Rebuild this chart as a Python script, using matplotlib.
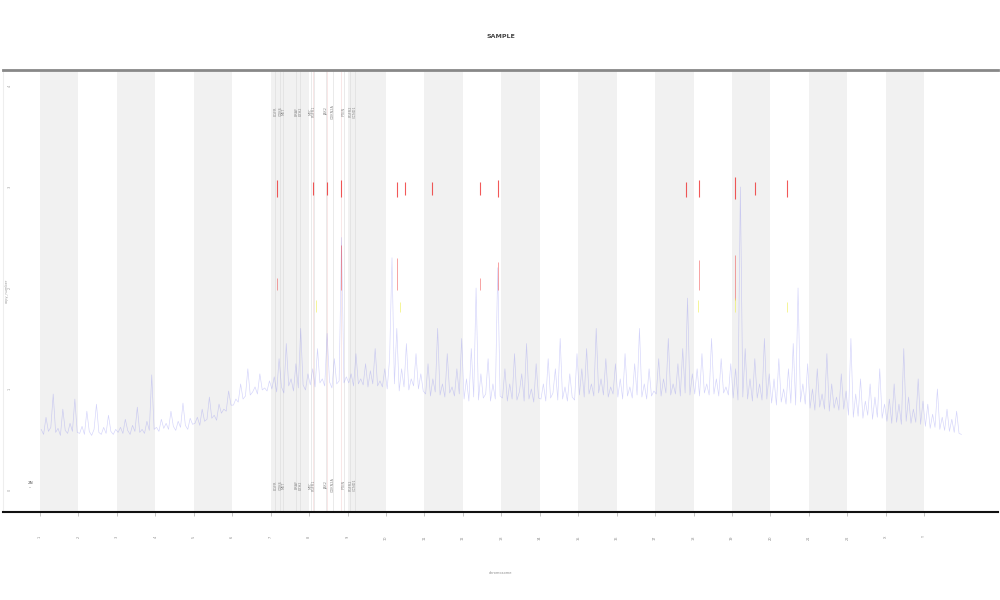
import matplotlib
matplotlib.use("Agg")
import matplotlib.pyplot as plt
import numpy as np

# ---------------- data ----------------
chrom_names = [str(i) for i in range(1, 23)] + ["X", "Y"]
points_per_chrom = 16

depth_values = [
    0.60,0.55,0.72,0.58,0.62,0.95,0.57,0.61,0.54,0.80,0.59,0.56,0.66,0.58,0.90,0.57,
    0.56,0.63,0.55,0.78,0.58,0.54,0.60,0.85,0.57,0.55,0.62,0.56,0.74,0.58,0.55,0.60,
    0.57,0.62,0.56,0.70,0.59,0.55,0.64,0.58,0.82,0.57,0.60,0.56,0.68,0.59,1.14,0.60,
    0.62,0.58,0.70,0.61,0.66,0.60,0.78,0.63,0.59,0.68,0.62,0.86,0.64,0.60,0.71,0.65,
    0.66,0.72,0.64,0.80,0.68,0.70,0.92,0.71,0.74,0.69,0.85,0.76,0.80,0.78,0.98,0.84,
    0.84,0.90,0.87,1.05,0.90,0.93,1.20,0.94,0.97,1.02,0.95,1.15,0.99,1.01,0.98,1.08,
    1.00,1.12,0.97,1.30,1.02,0.96,1.45,1.03,1.10,0.98,1.25,1.01,1.60,1.04,0.99,1.15,
    1.04,1.20,1.02,1.40,1.06,1.10,1.03,1.55,1.07,1.01,1.30,1.05,1.08,2.50,1.06,1.12,
    1.06,1.15,1.03,1.35,1.05,1.10,1.04,1.25,1.02,1.18,1.05,1.40,1.03,1.08,1.02,1.20,
    1.00,1.30,2.30,1.05,1.60,0.98,1.20,1.02,1.45,0.99,1.10,1.03,1.35,1.00,1.15,0.98,
    0.95,1.25,0.93,1.10,0.97,1.60,0.94,1.05,0.92,1.35,0.96,1.02,0.93,1.20,0.95,1.50,
    0.90,1.10,0.88,1.40,0.92,2.00,0.89,1.15,0.91,0.95,1.30,0.88,1.05,0.90,2.20,0.93,
    0.91,1.20,0.88,1.05,0.90,1.35,0.89,0.97,1.15,0.88,1.45,0.90,1.00,0.87,1.25,0.91,
    0.90,1.05,0.88,1.30,0.91,0.96,1.20,0.89,1.50,0.90,1.02,0.88,1.15,0.92,0.89,1.35,
    0.94,1.20,0.92,1.40,0.95,1.05,0.93,1.60,0.96,1.10,0.94,1.30,0.92,1.02,0.95,1.25,
    0.92,1.10,0.90,1.35,0.93,1.02,0.91,1.25,0.94,1.60,0.92,1.05,0.90,1.20,0.93,0.98,
    0.95,1.30,0.93,1.10,0.96,1.50,0.94,1.05,0.95,1.25,0.93,1.40,0.96,1.90,0.94,1.15,
    0.95,1.20,0.93,1.35,0.96,1.05,0.94,1.50,0.95,1.10,0.93,1.30,0.96,1.02,0.94,1.25,
    0.91,1.20,0.89,3.00,0.92,1.40,0.90,1.10,0.88,1.30,0.91,1.05,0.89,1.50,0.90,1.15,
    0.86,1.10,0.84,1.30,0.87,1.00,0.85,1.20,0.86,1.45,0.84,2.00,0.87,1.05,0.85,1.25,
    0.81,1.00,0.79,1.20,0.82,0.95,0.80,1.35,0.78,1.05,0.81,0.92,0.79,1.15,0.80,0.98,
    0.74,1.50,0.72,0.95,0.73,1.10,0.71,0.88,0.74,1.05,0.70,0.92,0.72,1.20,0.71,0.85,
    0.68,0.90,0.66,1.05,0.67,0.85,0.65,1.40,0.68,0.92,0.66,0.80,0.67,1.10,0.65,0.88,
    0.63,0.85,0.61,0.75,0.62,1.00,0.60,0.72,0.59,0.80,0.58,0.70,0.57,0.78,0.56,0.55,
]

# high-level calls (genome position in chromosome units, value range)
high_pos = [6.17, 7.10, 7.47, 7.83, 9.29, 9.50, 10.20, 11.45, 11.91, 16.81, 17.14, 18.08, 18.60, 19.43]
high_lo  = [2.90, 2.92, 2.92, 2.90, 2.90, 2.92, 2.92, 2.92, 2.90, 2.90, 2.90, 2.88, 2.92, 2.90]
high_hi  = [3.07, 3.05, 3.05, 3.07, 3.05, 3.05, 3.05, 3.05, 3.07, 3.05, 3.07, 3.10, 3.05, 3.07]

mid_pos = [6.17, 7.83, 9.29, 11.45, 11.91, 17.14, 18.08]
mid_lo  = [1.98, 1.98, 1.98, 1.98, 1.98, 1.98, 1.88]
mid_hi  = [2.10, 2.43, 2.30, 2.10, 2.26, 2.28, 2.33]

low_pos = [7.18, 9.37, 17.12, 18.08, 19.43]
low_lo  = [1.76, 1.76, 1.76, 1.76, 1.76]
low_hi  = [1.88, 1.86, 1.88, 1.90, 1.86]

# annotated regions
marker_pos    = [6.12, 6.25, 6.33, 6.67, 6.77, 7.05, 7.13, 7.44, 7.62, 7.91, 8.07, 8.20]
marker_labels = ["EGFR", "CDK6", "MET", "BRAF", "EZH2", "MYC", "FGFR1", "JAK2", "CDKN2A", "PTEN", "FGFR2", "CCND1"]

y_ticks = [0, 1, 2, 3, 4]

# ---------------- figure ----------------
fig = plt.figure(figsize=(10, 6), dpi=100)
ax = fig.add_axes([0.003, 0.1467, 0.995, 0.7366])

n = len(chrom_names)
ax.set_xlim(-0.9625, 24.92)
ax.set_ylim(-0.218, 4.158)

for i in range(0, n, 2):
    if i < 23:
        ax.axvspan(i, i + 1, color="#f1f1f1", lw=0, zorder=0)

for p in marker_pos:
    ax.axvline(p, color="#dcdcdc", lw=0.6, alpha=0.7, zorder=0.5)
for p in [7.10, 7.47, 7.83]:
    ax.axvline(p, color="#f5d0d0", lw=0.6, alpha=0.6, zorder=0.5)

vals = np.array(depth_values)
xs = np.array([c + (k + 0.5) / points_per_chrom
               for c in range(n) for k in range(points_per_chrom)])
ax.plot(xs, vals, color="#7070f0", lw=0.45, alpha=0.3, zorder=2)

ax.vlines(high_pos, high_lo, high_hi, color="#ee2222", lw=0.8, alpha=0.75, zorder=3)
ax.vlines(mid_pos, mid_lo, mid_hi, color="#ee3333", lw=0.7, alpha=0.45, zorder=3)
ax.vlines(low_pos, low_lo, low_hi, color="#eeee44", lw=0.7, alpha=0.55, zorder=3)

for p, lab in zip(marker_pos, marker_labels):
    ax.text(p, 3.75, lab, rotation=90, fontsize=2.5, color="#888888",
            ha="center", va="center")
    ax.text(p, 0.05, lab, rotation=90, fontsize=2.5, color="#888888",
            ha="center", va="center")

ax.text(-0.25, 0.05, "2N\n--", fontsize=3, color="#555555", ha="center", va="center")

ax.set_xticks(range(n))
ax.set_xticklabels(chrom_names, rotation=90, fontsize=2.5, color="#888888")
ax.tick_params(axis="x", length=3, width=0.4, color="#999999", pad=14)
ax.set_yticks(y_ticks)
ax.set_yticklabels([str(t) for t in y_ticks], rotation=90, fontsize=2.5,
                   color="#999999", va="center")
ax.tick_params(axis="y", length=0, pad=-6)

ax.set_xlabel("chromosome", fontsize=2.5, color="#888888", labelpad=22)
ax.set_ylabel("copy_number", fontsize=2.5, color="#999999", labelpad=-12)
ax.yaxis.set_label_coords(0.006, 0.5)
ax.set_title("SAMPLE", fontsize=4.5, color="#444444", pad=23, fontweight="bold")

ax.spines["top"].set_color("#888888")
ax.spines["top"].set_linewidth(2)
ax.spines["bottom"].set_color("#111111")
ax.spines["bottom"].set_linewidth(1.5)
ax.spines["left"].set_color("#eeeeee")
ax.spines["left"].set_linewidth(0.8)
ax.spines["right"].set_visible(False)

fig.savefig("out.png", dpi=100, facecolor="white")
